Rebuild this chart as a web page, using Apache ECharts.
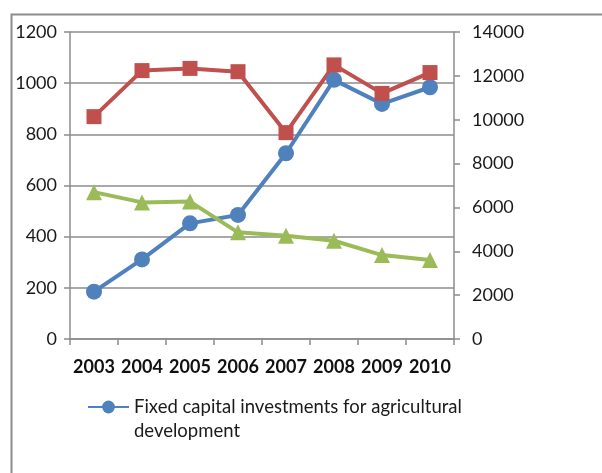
<!DOCTYPE html>
<html>
<head>
<meta charset="UTF-8">
<script src="https://cdn.jsdelivr.net/npm/echarts@6/dist/echarts.min.js"></script>
<style>
  html, body { margin: 0; padding: 0; background: #fff; }
  #chart { width: 602px; height: 473px; }
</style>
</head>
<body>
<div id="chart"></div>
<script>
// chart data
const years = ['2003', '2004', '2005', '2006', '2007', '2008', '2009', '2010'];
const fixedCapital = [185, 311, 452, 485, 726, 1013, 919, 984];            // blue, left axis
const redSeries = [10140, 12240, 12340, 12190, 9410, 12500, 11200, 12150];  // red, right axis
const greenSeries = [574, 534, 537, 417, 404, 384, 328, 309];               // green, left axis
const leftTicks = { min: 0, max: 1200, interval: 200 };
const rightTicks = { min: 0, max: 14000, interval: 2000 };
const legendName = 'Fixed capital investments for agricultural\ndevelopment';

const chart = echarts.init(document.getElementById('chart'));
const gray = '#8c8c8c';
const font = 'Lato';

function valueAxis(t, pos, margin) {
    return {
        type: 'value', position: pos,
        min: t.min, max: t.max, interval: t.interval,
        axisLine: { show: true, lineStyle: { color: gray, width: 1.5 } },
        axisTick: { show: true, length: 6, lineStyle: { color: gray, width: 1.5 } },
        axisLabel: { margin: margin, color: '#1a1a1a', fontSize: 18, fontFamily: font,
                     formatter: v => String(v) },
        splitLine: { show: pos === 'left', lineStyle: { color: gray, width: 1.5 } }
    };
}

chart.setOption({
    animation: false,
    grid: { left: 70, right: 148, top: 32, bottom: 134 },
    graphic: [{
        type: 'rect', left: 9, top: 12,
        shape: { width: 700, height: 600 },
        style: { fill: 'none', stroke: gray, lineWidth: 2 }
    }],
    legend: {
        data: [legendName],
        left: 87, top: 371, padding: 0,
        itemWidth: 41, itemHeight: 16,
        itemGap: 2,
        // leading empty line keeps the icon level with the first text line
        formatter: name => '\n' + name,
        textStyle: { fontSize: 18.5, fontFamily: font, color: '#1a1a1a', lineHeight: 24 }
    },
    xAxis: {
        type: 'category', data: years, boundaryGap: true,
        axisLine: { lineStyle: { color: gray, width: 1.5 } },
        axisTick: { show: true, length: 6, interval: 0, lineStyle: { color: gray, width: 1.5 } },
        axisLabel: { interval: 0, margin: 19, color: '#111', fontSize: 18, fontWeight: 'bold', fontFamily: font }
    },
    yAxis: [valueAxis(leftTicks, 'left', 13), valueAxis(rightTicks, 'right', 18)],
    series: [{
        name: legendName,
        type: 'line', data: fixedCapital, yAxisIndex: 0,
        symbol: 'circle', symbolSize: 16,
        lineStyle: { color: '#4f81bd', width: 4 },
        itemStyle: { color: '#4f81bd' }
    }, {
        name: 'red', type: 'line', data: redSeries, yAxisIndex: 1,
        symbol: 'rect', symbolSize: 15,
        lineStyle: { color: '#c0504d', width: 4 },
        itemStyle: { color: '#c0504d' }
    }, {
        name: 'green', type: 'line', data: greenSeries, yAxisIndex: 0,
        symbol: 'triangle', symbolSize: 16,
        lineStyle: { color: '#9bbb59', width: 4 },
        itemStyle: { color: '#9bbb59' }
    }]
});
</script>
</body>
</html>
